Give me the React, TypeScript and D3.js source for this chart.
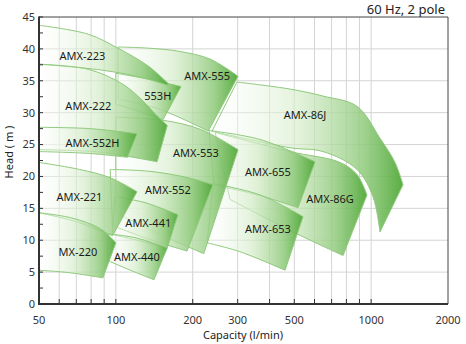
import React from "react";
import * as d3 from "d3";

type Pt = [number, number];

// pump names (drawing order: back to front)
const pumpNames = ["AMX-86J", "AMX-86G", "AMX-655", "AMX-653", "AMX-555", "553H", "AMX-553", "AMX-552", "AMX-441", "AMX-440", "AMX-223", "AMX-222", "AMX-552H", "AMX-221", "MX-220"];

// upper (max impeller) curves, [capacity l/min, head m]
const topCurves: Pt[][] = [
  [[298, 34.8], [481, 33.7], [648, 32.6], [880, 31.0], [1083, 26.0], [1240, 22.2], [1333, 18.7]],
  [[245, 26.9], [481, 23.9], [755, 22.2], [880, 20.3], [963, 17.1]],
  [[232, 27.2], [367, 25.8], [603, 22.3]],
  [[240, 18.9], [367, 17.1], [541, 13.7]],
  [[102, 40.3], [136, 40.1], [178, 39.6], [234, 38.4], [301, 35.7]],
  [[100, 36.2], [136, 35.2], [180, 34.1]],
  [[100, 29.3], [153, 28.8], [214, 27.4], [301, 24.2]],
  [[95, 21.1], [136, 20.8], [192, 19.8], [240, 18.7]],
  [[99, 16.8], [130, 15.9], [175, 14.0]],
  [[93, 11.0], [119, 10.4], [159, 8.8]],
  [[50, 43.7], [78, 42.3], [102, 40.1], [134, 37.3], [160, 34.6]],
  [[50, 37.6], [78, 36.8], [105, 34.6], [122, 32.6], [146, 29.4], [159, 28.0]],
  [[50, 27.7], [79, 27.5], [121, 26.7]],
  [[50, 22.2], [72, 21.1], [95, 19.8], [121, 17.6]],
  [[50, 14.3], [67, 13.5], [87, 11.8], [100, 9.6]],
];

// lower (min impeller) curves
const bottomCurves: Pt[][] = [
  [[238, 27.1], [481, 24.5], [648, 23.9], [880, 21.1], [1017, 16.8], [1083, 11.3]],
  [[280, 16.4], [512, 11.0], [776, 7.6]],
  [[242, 18.7], [367, 17.0], [517, 15.1]],
  [[228, 9.6], [306, 8.2], [460, 5.3]],
  [[102, 32.1], [149, 30.5], [230, 27.1]],
  [[100, 31.3], [124, 30.2], [153, 28.9]],
  [[100, 14.3], [149, 10.9], [221, 7.9]],
  [[97, 12.3], [136, 10.1], [190, 8.3]],
  [[97, 10.9], [124, 9.9], [159, 8.8]],
  [[93, 6.8], [114, 5.3], [141, 3.8]],
  [[50, 37.6], [87, 36.7], [124, 35.6], [160, 34.3]],
  [[50, 24.2], [87, 23.8], [145, 22.3]],
  [[50, 23.9], [79, 23.6], [111, 23.0]],
  [[50, 14.3], [70, 12.9], [97, 10.7]],
  [[50, 5.3], [66, 4.9], [89, 4.1]],
];

// label anchor points
const labelPoints: Pt[] = [
  [551, 29.6], [690, 16.4], [394, 20.6], [394, 11.8], [228, 35.7], [146, 32.6], [206, 23.6],
  [160, 17.9], [134, 12.6], [121, 7.4], [74, 38.9], [78, 31.0], [81, 25.2], [72, 16.7], [71, 8.2],
];

const xTicks = [50, 100, 200, 300, 500, 1000, 2000];
const xGrid = [60, 70, 80, 90, 100, 200, 300, 400, 500, 600, 700, 800, 900, 1000];
const yTicks = [0, 5, 10, 15, 20, 25, 30, 35, 40, 45];
const yMinor = [2.5, 7.5, 12.5, 17.5, 22.5, 27.5, 32.5, 37.5, 42.5];

const W = 466;
const H = 344;
const L = 39, R = 448, T = 17, B = 304;
const FONT = "'Noto Sans', 'DejaVu Sans', sans-serif";

export default function App() {
  const x = d3.scaleLog().domain([50, 2000]).range([L, R]);
  const y = d3.scaleLinear().domain([0, 45]).range([B, T]);
  const line = d3
    .line<Pt>()
    .x((d) => x(d[0]))
    .y((d) => y(d[1]))
    .curve(d3.curveCatmullRom.alpha(0.5));

  const shapes = pumpNames.map((name, i) => {
    const top = line(topCurves[i]) || "";
    const bot = line([...bottomCurves[i]].reverse()) || "";
    return { name, d: top + "L" + bot.slice(1) + "Z", label: labelPoints[i] };
  });

  return (
    <svg width={W} height={H} style={{ position: "absolute", left: 0, top: 0, background: "#fff" }}>
      <defs>
        <linearGradient id="pumpGrad" x1="0" y1="0" x2="1" y2="0">
          <stop offset="0" stopColor="#ffffff" stopOpacity={0.3} />
          <stop offset="0.45" stopColor="#d6edcb" stopOpacity={0.68} />
          <stop offset="0.8" stopColor="#92cb7e" stopOpacity={0.88} />
          <stop offset="1" stopColor="#52a93a" stopOpacity={0.95} />
        </linearGradient>
      </defs>
      <rect x={0} y={0} width={W} height={H} fill="#fff" />
      {/* grid */}
      {xGrid.map((v) => (
        <line key={"gx" + v} x1={x(v)} x2={x(v)} y1={T} y2={B} stroke="#d4d4d4" strokeWidth={1} />
      ))}
      {yTicks.slice(1, -1).map((v) => (
        <line key={"gy" + v} x1={L} x2={R} y1={y(v)} y2={y(v)} stroke="#d4d4d4" strokeWidth={1} />
      ))}
      {/* pump regions */}
      {shapes.map((s) => (
        <path key={s.name} d={s.d} fill="url(#pumpGrad)" stroke="#8fca7c" strokeWidth={1} strokeLinejoin="round" />
      ))}
      {shapes.map((s) => (
        <text
          key={"l" + s.name}
          x={x(s.label[0])}
          y={y(s.label[1])}
          dy="0.35em"
          textAnchor="middle"
          fontFamily={FONT}
          fontSize={11}
          fill="#1a1a1a"
        >
          {s.name}
        </text>
      ))}
      {/* frame */}
      <line x1={L} x2={R} y1={T} y2={T} stroke="#444" strokeWidth={1} />
      <line x1={R} x2={R} y1={T} y2={B} stroke="#444" strokeWidth={1} />
      <line x1={L} x2={L} y1={T - 0.5} y2={B + 1} stroke="#333" strokeWidth={2} />
      <line x1={L - 1} x2={R} y1={B} y2={B} stroke="#333" strokeWidth={2} />
      {/* ticks */}
      {[...yTicks, ...yMinor].map((v) => (
        <line key={"ty" + v} x1={L} x2={L + 4} y1={y(v)} y2={y(v)} stroke="#333" strokeWidth={1} />
      ))}
      {xGrid.map((v) => (
        <line key={"tx" + v} x1={x(v)} x2={x(v)} y1={B} y2={B - 5} stroke="#333" strokeWidth={1} />
      ))}
      {/* tick labels */}
      {xTicks.map((v) => (
        <text key={"xl" + v} x={x(v)} y={324} textAnchor="middle" fontFamily={FONT} fontSize={11} fill="#333">
          {v}
        </text>
      ))}
      {yTicks.map((v) => (
        <text key={"yl" + v} x={35} y={y(v)} dy="0.35em" textAnchor="end" fontFamily={FONT} fontSize={11} fill="#333">
          {v}
        </text>
      ))}
      <text x={243} y={339} textAnchor="middle" fontFamily={FONT} fontSize={11} fill="#222">
        Capacity (l/min)
      </text>
      <text
        transform={`translate(13,152) rotate(-90)`}
        textAnchor="middle"
        fontFamily={FONT}
        fontSize={11}
        fill="#222"
      >
        Head ( m )
      </text>
      <text x={445} y={14} textAnchor="end" fontFamily={FONT} fontSize={13} fill="#222">
        60 Hz, 2 pole
      </text>
    </svg>
  );
}
